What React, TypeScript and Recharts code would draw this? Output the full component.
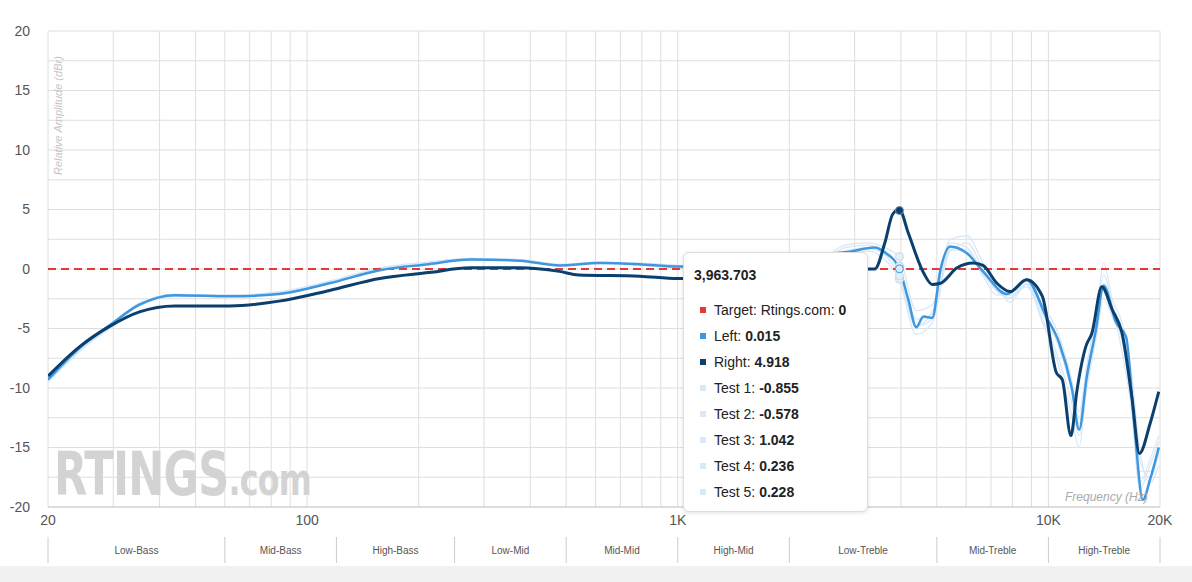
import { LineChart, Line, XAxis, YAxis, CartesianGrid, ReferenceLine, ReferenceDot } from 'recharts'

const leftFreq = [20, 24.4, 29.4, 35.3, 44, 62, 84, 115, 157, 213, 275, 375, 479, 615, 789, 1000, 1130, 1640, 2380, 2830, 3400, 3620, 3960, 4190, 4400, 4600, 4860, 5110, 5430, 6040, 6660, 7730, 8730, 9860, 10690, 11580, 12100, 12700, 13420, 14100, 15220, 16200, 17040, 17980, 18800, 19850]
const leftVals = [-9.3, -6.6, -4.7, -3.0, -2.2, -2.3, -2.1, -1.2, -0.1, 0.4, 0.8, 0.7, 0.3, 0.5, 0.4, 0.2, 0.2, 0.6, 1.2, 1.4, 1.8, 1.4, 0.0, -2.6, -4.9, -4.0, -4.1, -0.1, 1.9, 1.3, -0.2, -2.1, -0.9, -4.0, -6.2, -10.1, -13.5, -9.0, -5.2, -1.4, -4.5, -5.7, -13.0, -19.4, -17.7, -15.0]

const rightFreq = [20, 24.4, 29.4, 35.3, 44, 62, 84, 115, 157, 213, 275, 375, 479, 540, 789, 1000, 1130, 1640, 2380, 3070, 3260, 3400, 3620, 3800, 3960, 4190, 4600, 4860, 5110, 5670, 6270, 6660, 7260, 7880, 8730, 9630, 10500, 10900, 11500, 11940, 12620, 13100, 13930, 14850, 15800, 16800, 17600, 18800, 19850]
const rightVals = [-9.0, -6.5, -4.8, -3.6, -3.1, -3.1, -2.7, -1.8, -0.8, -0.3, 0.1, 0.1, -0.2, -0.5, -0.6, -0.8, -0.8, -0.7, -0.4, -0.1, 0.0, 0.0, 2.2, 4.6, 5.0, 3.0, -0.3, -1.3, -1.2, 0.1, 0.5, 0.3, -1.2, -1.9, -0.9, -2.3, -8.7, -9.3, -14.0, -10.2, -6.5, -5.4, -1.5, -3.4, -5.4, -10.8, -15.5, -13.0, -10.3]

const testFreq = [20, 25, 30, 35, 44, 62, 84, 115, 157, 213, 275, 375, 479, 615, 789, 1000, 1300, 1640, 2000, 2380, 2830, 3260, 3620, 3960, 4400, 4860, 5430, 6040, 6660, 7260, 7880, 8730, 9630, 10500, 11500, 12100, 12700, 13420, 14100, 14850, 15800, 16800, 17600, 18800, 19850]
const test1 = [-9.5, -6.6, -4.6, -3.1, -2.3, -2.3, -2.0, -1.2, -0.1, 0.4, 0.8, 0.7, 0.3, 0.5, 0.3, 0.1, -0.2, -1.5, -2.5, -0.8, 1.2, 1.5, 0.8, -0.9, -5.5, -4.5, 1.5, 2.2, 0.0, -1.5, -2.8, -1.3, -4.5, -7.5, -12.0, -15.0, -9.5, -4.5, -0.5, -3.0, -7.0, -12.0, -18.0, -16.0, -14.0]
const test2 = [-9.2, -6.4, -4.6, -3.0, -2.2, -2.2, -1.9, -1.0, 0.1, 0.6, 0.9, 0.8, 0.4, 0.6, 0.4, 0.3, 0.1, -0.8, -1.2, 0.0, 1.8, 2.0, 1.2, -0.6, -4.8, -3.6, 2.2, 1.8, -0.4, -1.9, -2.4, -1.0, -3.5, -5.5, -9.5, -12.5, -8.5, -4.8, -1.2, -3.2, -5.0, -10.0, -16.0, -17.5, -15.5]
const test3 = [-9.4, -6.6, -4.8, -3.1, -2.3, -2.3, -2.1, -1.1, 0.0, 0.5, 0.8, 0.7, 0.3, 0.5, 0.4, 0.2, 0.0, -0.5, -0.5, 0.5, 2.0, 2.2, 1.8, 1.0, -3.5, -3.0, 2.5, 2.8, 0.5, -1.2, -2.0, -0.8, -3.0, -5.0, -9.0, -12.0, -8.0, -4.0, 0.5, -2.5, -4.5, -9.0, -15.0, -18.0, -16.5]
const test4 = [-9.3, -6.5, -4.7, -3.0, -2.2, -2.2, -2.0, -1.1, 0.0, 0.5, 0.8, 0.7, 0.3, 0.5, 0.4, 0.2, 0.0, -1.0, -1.5, -0.3, 1.5, 1.8, 1.2, 0.2, -4.8, -4.2, 1.8, 1.6, -0.2, -1.8, -2.5, -1.2, -3.8, -6.0, -10.0, -13.0, -9.0, -5.0, -1.5, -3.5, -5.5, -11.0, -17.0, -17.0, -15.0]
const test5 = [-9.1, -6.3, -4.5, -2.9, -2.1, -2.2, -2.0, -1.1, 0.0, 0.5, 0.9, 0.8, 0.4, 0.5, 0.5, 0.3, 0.1, -1.2, -2.0, -0.6, 1.4, 1.7, 1.3, 0.2, -4.2, -3.8, 1.6, 1.4, -0.6, -2.2, -2.2, -1.5, -4.2, -7.0, -11.0, -14.0, -10.0, -6.0, -2.5, -4.0, -6.0, -12.0, -18.5, -16.5, -14.5]

const bandEdges = [20, 60, 120, 250, 500, 1000, 2000, 5000, 10000, 20000]
const bandNames = ['Low-Bass', 'Mid-Bass', 'High-Bass', 'Low-Mid', 'Mid-Mid', 'High-Mid', 'Low-Treble', 'Mid-Treble', 'High-Treble']

const xTicks = [20, 30, 40, 50, 60, 70, 80, 90, 100, 200, 300, 400, 500, 600, 700, 800, 900, 1000, 2000, 3000, 4000, 5000, 6000, 7000, 8000, 9000, 10000, 20000]
const xLabels: Record<number, string> = { 20: '20', 100: '100', 1000: '1K', 10000: '10K', 20000: '20K' }
const yTicks = [-20, -17.5, -15, -12.5, -10, -7.5, -5, -2.5, 0, 2.5, 5, 7.5, 10, 12.5, 15, 17.5, 20]

const tipFreq = 3963.703
const tipRows = [
  { name: 'Target: Rtings.com', value: '0', color: '#e53935' },
  { name: 'Left', value: '0.015', color: '#3f97e0' },
  { name: 'Right', value: '4.918', color: '#0b3f6e' },
  { name: 'Test 1', value: '-0.855', color: '#dbe9f7' },
  { name: 'Test 2', value: '-0.578', color: '#dbe9f7' },
  { name: 'Test 3', value: '1.042', color: '#dbe9f7' },
  { name: 'Test 4', value: '0.236', color: '#dbe9f7' },
  { name: 'Test 5', value: '0.228', color: '#dbe9f7' },
]

const toPts = (fs: number[], vs: number[]) => fs.map((f, i) => ({ f, v: vs[i] }))
const tests = [test1, test2, test3, test4, test5]
const bandTicks = [...bandEdges, ...bandNames.map((_, i) => Math.sqrt(bandEdges[i] * bandEdges[i + 1]))]

const font = '"Liberation Sans", Arial, sans-serif'

function BandTick(props: any) {
  const { x, y, payload } = props
  const idx = bandEdges.indexOf(payload.value)
  if (idx >= 0) {
    return <line x1={x} x2={x} y1={y - 6} y2={y + 20} stroke="#ccc" />
  }
  const ci = bandTicks.indexOf(payload.value) - bandEdges.length
  return (
    <text x={x} y={y + 11} textAnchor="middle" fontSize={10} fill="#555" fontFamily={font}>
      {bandNames[ci]}
    </text>
  )
}

export default function App() {
  return (
    <div style={{ position: 'absolute', left: 0, top: 0, width: 1192, height: 582, background: '#fff', fontFamily: font }}>
      <LineChart width={1192} height={582} margin={{ top: 31, right: 32, left: 0, bottom: 0 }}>
        <CartesianGrid xAxisId="a" stroke="#dedede" />
        <XAxis
          xAxisId="a"
          dataKey="f"
          type="number"
          scale="log"
          domain={[20, 20000]}
          ticks={xTicks}
          interval={0}
          tickFormatter={(t: number) => xLabels[t] ?? ''}
          tick={{ fontSize: 14, fill: '#555', fontFamily: font }}
          tickLine={false}
          axisLine={{ stroke: '#ccc' }}
          height={28}
          allowDataOverflow
        />
        <XAxis
          xAxisId="b"
          dataKey="f"
          type="number"
          scale="log"
          domain={[20, 20000]}
          ticks={bandTicks}
          interval={0}
          tick={<BandTick />}
          tickLine={false}
          axisLine={false}
          height={47}
          allowDataOverflow
        />
        <YAxis
          type="number"
          domain={[-20, 20]}
          ticks={yTicks}
          interval={0}
          tickFormatter={(t: number) => (t % 5 === 0 ? String(t) : '')}
          tick={{ fontSize: 14, fill: '#555', fontFamily: font }}
          tickLine={false}
          axisLine={false}
          width={48}
          tickMargin={12}
        />
        {tests.map((t, i) => (
          <Line key={i} xAxisId="a" data={toPts(testFreq, t)} dataKey="v" type="monotone" stroke="#d6e7f8" strokeWidth={1.2} dot={false} isAnimationActive={false} />
        ))}
        <ReferenceLine xAxisId="a" y={0} stroke="#e53935" strokeWidth={2} strokeDasharray="8 5" />
        <Line xAxisId="a" data={toPts(leftFreq, leftVals)} dataKey="v" type="monotone" stroke="#3f97e0" strokeWidth={2.5} dot={false} isAnimationActive={false} />
        <Line xAxisId="a" data={toPts(rightFreq, rightVals)} dataKey="v" type="monotone" stroke="#0b3f6e" strokeWidth={3} dot={false} isAnimationActive={false} />
        {[-0.855, -0.578, 1.042, 0.236, 0.228].map((v, i) => (
          <ReferenceDot key={i} xAxisId="a" x={tipFreq} y={v} r={4} fill="#e6eef6" stroke="#c9d6e2" />
        ))}
        <ReferenceDot xAxisId="a" x={tipFreq} y={0.015} r={4} fill="#d8ecfb" stroke="#3f97e0" />
        <ReferenceDot xAxisId="a" x={tipFreq} y={4.918} r={4} fill="#0b3f6e" stroke="#6b8fb0" />
      </LineChart>
      <div style={{ position: 'absolute', left: 52, top: 35, width: 14, height: 140, overflow: 'visible' }}>
        <div style={{ position: 'absolute', left: 0, top: 140, transform: 'rotate(-90deg)', transformOrigin: 'left top', whiteSpace: 'nowrap', fontSize: 11, fontStyle: 'italic', color: '#c4c4c4' }}>
          Relative Amplitude (dBr)
        </div>
      </div>
      <div style={{ position: 'absolute', left: 54, top: 444, fontSize: 60, fontWeight: 'bold', color: '#d3d3d3', fontFamily: '"DejaVu Sans Condensed", "Liberation Sans Narrow", sans-serif', letterSpacing: -1, transform: 'scaleX(0.8)', transformOrigin: 'left', lineHeight: 1 }}>
        RTINGS<span style={{ fontSize: 44 }}>.com</span>
      </div>
      <div style={{ position: 'absolute', left: 1065, top: 490, fontSize: 12, fontStyle: 'italic', color: '#aaa' }}>Frequency (Hz)</div>
      <div style={{ position: 'absolute', left: 0, top: 566, width: 1192, height: 16, background: '#f1f1f1' }} />
      <div style={{ position: 'absolute', left: 683, top: 252, width: 185, height: 260, background: '#fff', border: '1px solid #ddd', borderRadius: 6, boxShadow: '0 1px 4px rgba(0,0,0,0.12)', boxSizing: 'border-box', padding: '14px 10px' }}>
        <div style={{ fontSize: 14, fontWeight: 'bold', color: '#222', marginBottom: 14 }}>{tipFreq.toLocaleString('en-US')}</div>
        {tipRows.map((r) => (
          <div key={r.name} style={{ fontSize: 14, color: '#222', height: 26, display: 'flex', alignItems: 'center' }}>
            <span style={{ display: 'inline-block', width: 6, height: 6, background: r.color, marginRight: 8, marginLeft: 6 }} />
            {r.name}:&nbsp;<b>{r.value}</b>
          </div>
        ))}
      </div>
    </div>
  )
}
